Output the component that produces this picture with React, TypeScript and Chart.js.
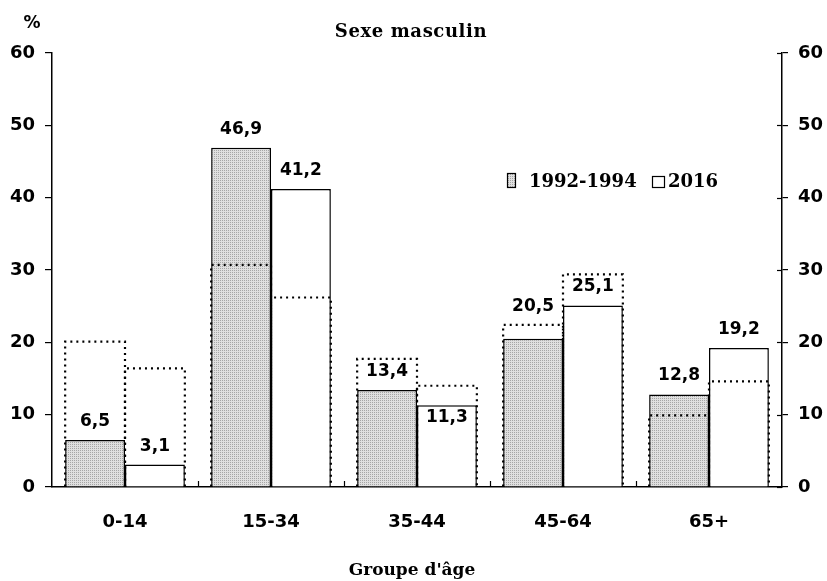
import { useEffect, useRef } from 'react';
import { Chart, registerables } from 'chart.js';

Chart.register(...registerables);

const categories = ['0-14', '15-34', '35-44', '45-64', '65+'];
const seriesLabels = ['1992-1994', '2016'];
const values19921994 = [6.5, 46.9, 13.4, 20.5, 12.8];
const values2016 = [3.1, 41.2, 11.3, 25.1, 19.2];
const dotted19921994 = [20.1, 30.7, 17.7, 22.4, 9.9];
const dotted2016 = [16.4, 26.2, 14.0, 29.4, 14.6];
const yMin = 0;
const yMax = 60;
const yStep = 10;
const chartTitle = 'Sexe masculin';
const xTitle = "Groupe d'âge";
const yUnit = '%';

const SANS = "'DejaVu Sans', sans-serif";
const SERIF = "'DejaVu Serif', serif";

export default function App() {
  const ref = useRef<HTMLCanvasElement>(null);

  useEffect(() => {
    const canvas = ref.current!;
    const pc = document.createElement('canvas');
    pc.width = 2;
    pc.height = 2;
    const pctx = pc.getContext('2d')!;
    pctx.fillStyle = '#e0e0e0';
    pctx.fillRect(0, 0, 2, 2);
    pctx.fillStyle = '#a6a6a6';
    pctx.fillRect(0, 0, 1, 1);
    const ctx0 = canvas.getContext('2d')!;
    const pattern = ctx0.createPattern(pc, 'repeat')!;

    const dottedSets = [dotted19921994, dotted2016];
    const valueSets = [values19921994, values2016];

    const overlay = {
      id: 'overlay',
      afterDatasetsDraw(chart: any) {
        const { ctx, chartArea, scales } = chart;
        const y = scales.y;
        ctx.save();
        // dotted outlines
        ctx.strokeStyle = '#000';
        ctx.lineWidth = 2.2;
        ctx.setLineDash([2, 4]);
        [0, 1].forEach((d) => {
          const meta = chart.getDatasetMeta(d);
          meta.data.forEach((bar: any, i: number) => {
            const { x, width, base } = bar.getProps(['x', 'width', 'base'], true);
            const l = x - width / 2;
            const r = x + width / 2;
            const t = y.getPixelForValue(dottedSets[d][i]);
            ctx.beginPath();
            ctx.moveTo(l, base);
            ctx.lineTo(l, t);
            ctx.lineTo(r, t);
            ctx.lineTo(r, base);
            ctx.stroke();
          });
        });
        ctx.setLineDash([]);

        // value labels
        ctx.fillStyle = '#000';
        ctx.font = `bold 17px ${SANS}`;
        ctx.textAlign = 'center';
        ctx.textBaseline = 'alphabetic';
        [0, 1].forEach((d) => {
          const meta = chart.getDatasetMeta(d);
          meta.data.forEach((bar: any, i: number) => {
            const { x, y: by } = bar.getProps(['x', 'y'], true);
            const v = valueSets[d][i];
            const dv = dottedSets[d][i];
            const diff = dv - v;
            let ty = by - 14;
            if (diff > 0 && diff <= 2.2) ty = y.getPixelForValue(dv) - 14;
            else if (diff > 2.2 && diff <= 3) ty = by + 17;
            ctx.fillText(String(v).replace('.', ','), x, ty);
          });
        });

        // inward ticks on right axis
        const y2 = scales.y2;
        ctx.strokeStyle = '#000';
        ctx.lineWidth = 1.2;
        y2.ticks.forEach((t: any) => {
          const py = Math.round(y2.getPixelForValue(t.value)) + 0.5;
          ctx.beginPath();
          ctx.moveTo(chartArea.right - 5, py);
          ctx.lineTo(chartArea.right, py);
          ctx.stroke();
        });

        // small category boundary marks on x axis
        const n = categories.length;
        const cw = (chartArea.right - chartArea.left) / n;
        for (let k = 1; k < n; k++) {
          const px = Math.round(chartArea.left + k * cw) + 0.5;
          ctx.beginPath();
          ctx.moveTo(px, chartArea.bottom);
          ctx.lineTo(px, chartArea.bottom - 6);
          ctx.stroke();
        }

        // legend
        const ds = chart.data.datasets;
        ctx.lineWidth = 1.2;
        ctx.fillStyle = pattern;
        ctx.fillRect(507, 173, 8, 14);
        ctx.strokeRect(507.5, 173.5, 8, 14);
        ctx.fillStyle = '#fff';
        ctx.fillRect(652, 176, 12, 11);
        ctx.strokeRect(652.5, 176.5, 12, 11);
        ctx.fillStyle = '#000';
        ctx.font = `bold 18px ${SERIF}`;
        ctx.textAlign = 'left';
        ctx.fillText(ds[0].label, 529, 187);
        ctx.fillText(ds[1].label, 668, 187);

        // titles
        ctx.textAlign = 'center';
        ctx.font = `bold 18px ${SERIF}`;
        try { (ctx as any).letterSpacing = '0.6px'; } catch (e) { /* ignore */ }
        ctx.fillText(chartTitle, 411, 37);
        try { (ctx as any).letterSpacing = '0px'; } catch (e) { /* ignore */ }
        ctx.font = `bold 17px ${SERIF}`;
        ctx.fillText(xTitle, 412, 575);
        ctx.font = `bold 17px ${SANS}`;
        ctx.fillText(yUnit, 32, 28);
        ctx.restore();
      },
    };

    const tickFont = { family: SANS, size: 18, weight: 'bold' as const };

    const chart = new Chart(canvas, {
      type: 'bar',
      data: {
        labels: categories,
        datasets: [
          {
            label: seriesLabels[0],
            data: values19921994,
            backgroundColor: pattern as any,
            borderColor: '#000',
            borderWidth: { top: 1.5, left: 1.5, right: 1.5, bottom: 0 },
            borderSkipped: false,
            yAxisID: 'y',
          },
          {
            label: seriesLabels[1],
            data: values2016,
            backgroundColor: '#fff',
            borderColor: '#000',
            borderWidth: { top: 1.5, left: 1.5, right: 1.5, bottom: 0 },
            borderSkipped: false,
            yAxisID: 'y',
          },
        ],
      },
      options: {
        animation: false,
        responsive: true,
        maintainAspectRatio: false,
        layout: { padding: { top: 53, left: 0, right: 0, bottom: 0 } },
        plugins: {
          legend: { display: false },
          title: { display: false },
          tooltip: { enabled: false },
        },
        datasets: { bar: { categoryPercentage: 0.82, barPercentage: 1.0 } },
        scales: {
          x: {
            type: 'category',
            offset: true,
            grid: { display: false, drawTicks: false },
            border: { display: true, color: '#000', width: 1.5 },
            ticks: { color: '#000', font: { family: SANS, size: 18, weight: 'bold' }, padding: 25, maxRotation: 0 },
            afterFit: (s: any) => { s.height = 94; },
          },
          y: {
            position: 'left',
            min: yMin,
            max: yMax,
            ticks: { stepSize: yStep, color: '#000', font: tickFont, padding: 10 },
            grid: { drawOnChartArea: false, drawTicks: true, tickLength: 7, color: '#000', lineWidth: 1.2 },
            border: { display: true, color: '#000', width: 1.5 },
            afterFit: (s: any) => { s.width = 52; },
          },
          y2: {
            position: 'right',
            min: yMin,
            max: yMax,
            ticks: { stepSize: yStep, color: '#000', font: tickFont, padding: 10 },
            grid: { drawOnChartArea: false, drawTicks: true, tickLength: 6, color: '#000', lineWidth: 1.2 },
            border: { display: true, color: '#000', width: 1.5 },
            afterFit: (s: any) => { s.width = 45; },
          },
        },
      },
      plugins: [overlay],
    });

    return () => chart.destroy();
  }, []);

  return (
    <div style={{ position: 'absolute', left: 0, top: 0, width: 827, height: 581, background: '#fff' }}>
      <canvas ref={ref} />
    </div>
  );
}
